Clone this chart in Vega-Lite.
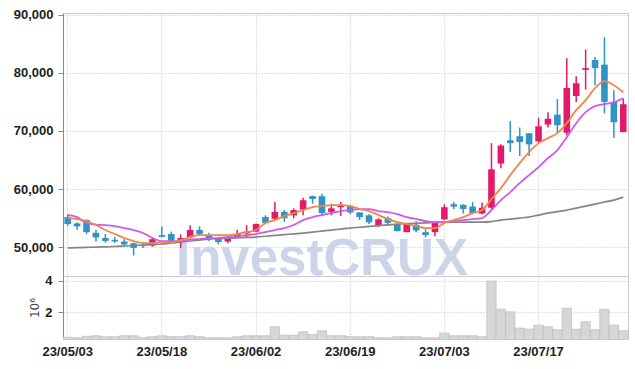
{
  "$schema": "https://vega.github.io/schema/vega-lite/v6.json",
  "padding": {"left": 12, "top": 8, "right": 2, "bottom": 5},
  "background": "#ffffff",
  "datasets": {
    "wm": [{"date": "23/06/14", "price": 45250, "t": "InvestCRUX"}]
  },
  "data": {"values": [
    {"date":"23/05/03","o":55200,"h":55700,"l":53700,"c":54000,"v":0.40,"ma5":55031,"ma20":55546,"ma60":49880},
    {"date":"23/05/04","o":54100,"h":54300,"l":53000,"c":53600,"v":0.37,"ma5":54859,"ma20":55203,"ma60":49931},
    {"date":"23/05/08","o":54700,"h":54800,"l":52300,"c":52600,"v":0.46,"ma5":54516,"ma20":54172,"ma60":49983},
    {"date":"23/05/09","o":52500,"h":53000,"l":51000,"c":51700,"v":0.50,"ma5":53829,"ma20":53914,"ma60":50034},
    {"date":"23/05/10","o":51600,"h":52300,"l":50800,"c":51100,"v":0.44,"ma5":52970,"ma20":53829,"ma60":50086},
    {"date":"23/05/11","o":51300,"h":51800,"l":50800,"c":51000,"v":0.44,"ma5":52284,"ma20":53657,"ma60":50137},
    {"date":"23/05/12","o":51000,"h":51400,"l":50200,"c":50500,"v":0.50,"ma5":51597,"ma20":53314,"ma60":50223},
    {"date":"23/05/15","o":50700,"h":50800,"l":48600,"c":49900,"v":0.50,"ma5":51082,"ma20":52970,"ma60":50309},
    {"date":"23/05/16","o":50400,"h":50800,"l":49900,"c":50200,"v":0.39,"ma5":50738,"ma20":52455,"ma60":50395},
    {"date":"23/05/17","o":50300,"h":51700,"l":50100,"c":51400,"v":0.44,"ma5":50738,"ma20":51597,"ma60":50481},
    {"date":"23/05/18","o":52100,"h":53600,"l":51700,"c":51800,"v":0.50,"ma5":50910,"ma20":51082,"ma60":50567},
    {"date":"23/05/19","o":52300,"h":52700,"l":50900,"c":51100,"v":0.44,"ma5":50910,"ma20":51082,"ma60":50738},
    {"date":"23/05/22","o":51000,"h":52200,"l":49900,"c":51600,"v":0.44,"ma5":51253,"ma20":51082,"ma60":50910},
    {"date":"23/05/23","o":51700,"h":53800,"l":51500,"c":53000,"v":0.50,"ma5":51768,"ma20":51339,"ma60":51082},
    {"date":"23/05/24","o":53000,"h":53600,"l":52000,"c":52300,"v":0.44,"ma5":52112,"ma20":51425,"ma60":51253},
    {"date":"23/05/25","o":52000,"h":52500,"l":51100,"c":51500,"v":0.37,"ma5":52112,"ma20":51597,"ma60":51425},
    {"date":"23/05/26","o":51500,"h":51700,"l":50500,"c":50900,"v":0.37,"ma5":52112,"ma20":51597,"ma60":51494},
    {"date":"23/05/30","o":51000,"h":51900,"l":50700,"c":51800,"v":0.37,"ma5":52112,"ma20":51768,"ma60":51562},
    {"date":"23/05/31","o":51700,"h":53000,"l":51600,"c":52300,"v":0.44,"ma5":52284,"ma20":51940,"ma60":51631},
    {"date":"23/06/01","o":52400,"h":53800,"l":51600,"c":52700,"v":0.50,"ma5":52627,"ma20":52112,"ma60":51700},
    {"date":"23/06/02","o":52700,"h":54100,"l":52600,"c":54000,"v":0.50,"ma5":52970,"ma20":52284,"ma60":51768},
    {"date":"23/06/05","o":55200,"h":55500,"l":54000,"c":54200,"v":0.50,"ma5":54172,"ma20":52627,"ma60":51906},
    {"date":"23/06/07","o":54900,"h":57800,"l":54700,"c":56100,"v":1.07,"ma5":54687,"ma20":52970,"ma60":52043},
    {"date":"23/06/08","o":56100,"h":56400,"l":54400,"c":55000,"v":0.54,"ma5":55374,"ma20":53314,"ma60":52181},
    {"date":"23/06/09","o":55500,"h":56700,"l":55000,"c":56400,"v":0.54,"ma5":55889,"ma20":53829,"ma60":52318},
    {"date":"23/06/12","o":56500,"h":58500,"l":55500,"c":58100,"v":0.75,"ma5":56404,"ma20":54687,"ma60":52455},
    {"date":"23/06/13","o":58800,"h":58900,"l":57500,"c":58300,"v":0.58,"ma5":56919,"ma20":55203,"ma60":52627},
    {"date":"23/06/14","o":58800,"h":59200,"l":55500,"c":55900,"v":0.82,"ma5":57091,"ma20":55546,"ma60":52799},
    {"date":"23/06/15","o":56100,"h":57500,"l":55500,"c":56700,"v":0.50,"ma5":57263,"ma20":55889,"ma60":52970},
    {"date":"23/06/16","o":56900,"h":57800,"l":55400,"c":57300,"v":0.50,"ma5":57263,"ma20":56232,"ma60":53142},
    {"date":"23/06/19","o":57100,"h":57300,"l":55700,"c":56000,"v":0.44,"ma5":57091,"ma20":56404,"ma60":53314},
    {"date":"23/06/20","o":56000,"h":56000,"l":54700,"c":55200,"v":0.44,"ma5":56576,"ma20":56576,"ma60":53451},
    {"date":"23/06/21","o":55500,"h":55700,"l":54000,"c":54300,"v":0.44,"ma5":56232,"ma20":56576,"ma60":53589},
    {"date":"23/06/22","o":53800,"h":55000,"l":53500,"c":54800,"v":0.37,"ma5":55546,"ma20":56232,"ma60":53726},
    {"date":"23/06/23","o":55000,"h":55300,"l":53800,"c":54200,"v":0.37,"ma5":54859,"ma20":56061,"ma60":53863},
    {"date":"23/06/26","o":54000,"h":54000,"l":52700,"c":52800,"v":0.44,"ma5":54344,"ma20":55717,"ma60":54001},
    {"date":"23/06/27","o":52600,"h":54000,"l":52600,"c":54000,"v":0.44,"ma5":54000,"ma20":55203,"ma60":54069},
    {"date":"23/06/28","o":53900,"h":54500,"l":52600,"c":52900,"v":0.44,"ma5":53657,"ma20":54859,"ma60":54138},
    {"date":"23/06/29","o":52600,"h":53100,"l":51700,"c":52100,"v":0.37,"ma5":53314,"ma20":54516,"ma60":54207},
    {"date":"23/06/30","o":52600,"h":54300,"l":51900,"c":54200,"v":0.37,"ma5":53314,"ma20":54344,"ma60":54275},
    {"date":"23/07/03","o":54800,"h":57400,"l":54700,"c":56900,"v":0.67,"ma5":54172,"ma20":54344,"ma60":54344},
    {"date":"23/07/04","o":57400,"h":57800,"l":56600,"c":57000,"v":0.50,"ma5":54687,"ma20":54516,"ma60":54344},
    {"date":"23/07/05","o":57300,"h":57400,"l":55800,"c":56600,"v":0.50,"ma5":55203,"ma20":54687,"ma60":54344},
    {"date":"23/07/06","o":57000,"h":57800,"l":55700,"c":55900,"v":0.50,"ma5":55889,"ma20":54859,"ma60":54344},
    {"date":"23/07/07","o":55800,"h":57700,"l":55700,"c":56800,"v":0.44,"ma5":56404,"ma20":55031,"ma60":54344},
    {"date":"23/07/10","o":56800,"h":67900,"l":56600,"c":63400,"v":3.98,"ma5":58293,"ma20":56404,"ma60":54430},
    {"date":"23/07/11","o":64400,"h":67700,"l":63600,"c":67500,"v":2.19,"ma5":60182,"ma20":58121,"ma60":54687},
    {"date":"23/07/12","o":68400,"h":71700,"l":66400,"c":67900,"v":2.02,"ma5":62414,"ma20":59495,"ma60":54859},
    {"date":"23/07/13","o":69100,"h":70600,"l":65700,"c":68100,"v":0.99,"ma5":64474,"ma20":61040,"ma60":55031},
    {"date":"23/07/14","o":69600,"h":69600,"l":65700,"c":67700,"v":0.92,"ma5":66363,"ma20":62414,"ma60":55203},
    {"date":"23/07/17","o":68200,"h":72300,"l":68000,"c":70800,"v":1.18,"ma5":67908,"ma20":63788,"ma60":55546},
    {"date":"23/07/18","o":71100,"h":73200,"l":70600,"c":72100,"v":1.07,"ma5":68767,"ma20":65333,"ma60":55889},
    {"date":"23/07/19","o":72800,"h":75500,"l":69700,"c":71000,"v":0.88,"ma5":69625,"ma20":66707,"ma60":56147},
    {"date":"23/07/20","o":69700,"h":82500,"l":69300,"c":77400,"v":2.25,"ma5":71342,"ma20":68939,"ma60":56404},
    {"date":"23/07/21","o":76000,"h":79400,"l":75000,"c":78200,"v":0.92,"ma5":73574,"ma20":71342,"ma60":56748},
    {"date":"23/07/24","o":80500,"h":84000,"l":77100,"c":80800,"v":1.39,"ma5":75291,"ma20":73231,"ma60":57091},
    {"date":"23/07/25","o":82200,"h":82700,"l":77800,"c":80800,"v":0.88,"ma5":77352,"ma20":74261,"ma60":57435},
    {"date":"23/07/26","o":81400,"h":86100,"l":73000,"c":75000,"v":2.19,"ma5":78554,"ma20":74604,"ma60":57778},
    {"date":"23/07/27","o":75000,"h":77000,"l":68800,"c":71500,"v":1.18,"ma5":77867,"ma20":74948,"ma60":58121},
    {"date":"23/07/28","o":69800,"h":75600,"l":69800,"c":74600,"v":0.82,"ma5":76665,"ma20":75635,"ma60":58636}
  ]},
  "spacing": 0,
  "bounds": "flush",
  "resolve": {"scale": {"x": "shared"}},
  "vconcat": [
    {
      "width": 565,
      "height": 263,
      "encoding": {
        "x": {"field": "date", "type": "ordinal",
          "scale": {"paddingInner": 0, "paddingOuter": 0},
          "axis": {"values": ["23/05/03","23/05/18","23/06/02","23/06/19","23/07/03","23/07/17"], "labels": false, "ticks": false, "domain": false, "grid": true, "title": null, "minExtent": 0, "maxExtent": 0, "labelPadding": 0, "offset": 0}}
      },
      "layer": [
        {
          "data": {"name": "wm"},
          "mark": {"type": "text", "font": "Liberation Sans", "fontWeight": "bold", "fontSize": 51, "align": "center", "baseline": "alphabetic", "color": "#cdd3e8"},
          "encoding": {
            "y": {"field": "price", "type": "quantitative", "scale": {"domain": [45070, 90280], "nice": false, "zero": false},
              "axis": {"values": [50000, 60000, 70000, 80000, 90000], "format": ",d", "title": null, "grid": true}},
            "text": {"field": "t"}
          }
        },
        {
          "mark": {"type": "rule", "strokeWidth": 1.5},
          "encoding": {
            "y": {"field": "l", "type": "quantitative", "scale": {"domain": [45070, 90280], "nice": false, "zero": false},
              "axis": {"values": [50000, 60000, 70000, 80000, 90000], "format": ",d", "title": null, "grid": true}},
            "y2": {"field": "h"},
            "color": {"condition": {"test": "datum.c >= datum.o", "value": "#e3196a"}, "value": "#2e93c6"}
          }
        },
        {
          "mark": {"type": "bar", "width": {"band": 0.7}},
          "encoding": {
            "y": {"field": "o", "type": "quantitative"},
            "y2": {"field": "c"},
            "color": {"condition": {"test": "datum.c >= datum.o", "value": "#e3196a"}, "value": "#2e93c6"}
          }
        },
        {
          "mark": {"type": "line", "color": "#858585", "strokeWidth": 1.7, "interpolate": "monotone"},
          "encoding": {"y": {"field": "ma60", "type": "quantitative"}}
        },
        {
          "mark": {"type": "line", "color": "#cf5ae6", "strokeWidth": 1.8, "interpolate": "monotone"},
          "encoding": {"y": {"field": "ma20", "type": "quantitative"}}
        },
        {
          "mark": {"type": "line", "color": "#f0874a", "strokeWidth": 1.8, "interpolate": "monotone"},
          "encoding": {"y": {"field": "ma5", "type": "quantitative"}}
        }
      ]
    },
    {
      "width": 565,
      "height": 63,
      "mark": {"type": "bar", "width": {"band": 1}, "fill": "#d6d6d8", "stroke": "#b9b9bd", "strokeWidth": 0.6, "clip": true},
      "encoding": {
        "x": {"field": "date", "type": "ordinal",
          "axis": {"values": ["23/05/03","23/05/18","23/06/02","23/06/19","23/07/03","23/07/17"], "labelAngle": 0, "ticks": false, "domain": false, "grid": true, "title": null, "labelPadding": 6}},
        "y": {"field": "v", "type": "quantitative", "scale": {"domain": [0.29, 4.3], "nice": false, "zero": false},
          "axis": {"values": [2, 4], "format": "d", "title": "10⁶", "grid": true, "titleFont": "DejaVu Sans", "titleFontWeight": "normal", "titleFontSize": 12, "titleColor": "#444", "titlePadding": 3, "labelPadding": 6}}
      }
    }
  ],
  "config": {
    "view": {"stroke": "#c9c9d3", "strokeWidth": 1},
    "axis": {
      "labelFont": "Liberation Sans",
      "labelFontWeight": "bold",
      "labelFontSize": 13,
      "labelColor": "#222222",
      "labelPadding": 5,
      "gridColor": "#bcc0da",
      "gridDash": [1, 2],
      "gridWidth": 1
    }
  }
}
